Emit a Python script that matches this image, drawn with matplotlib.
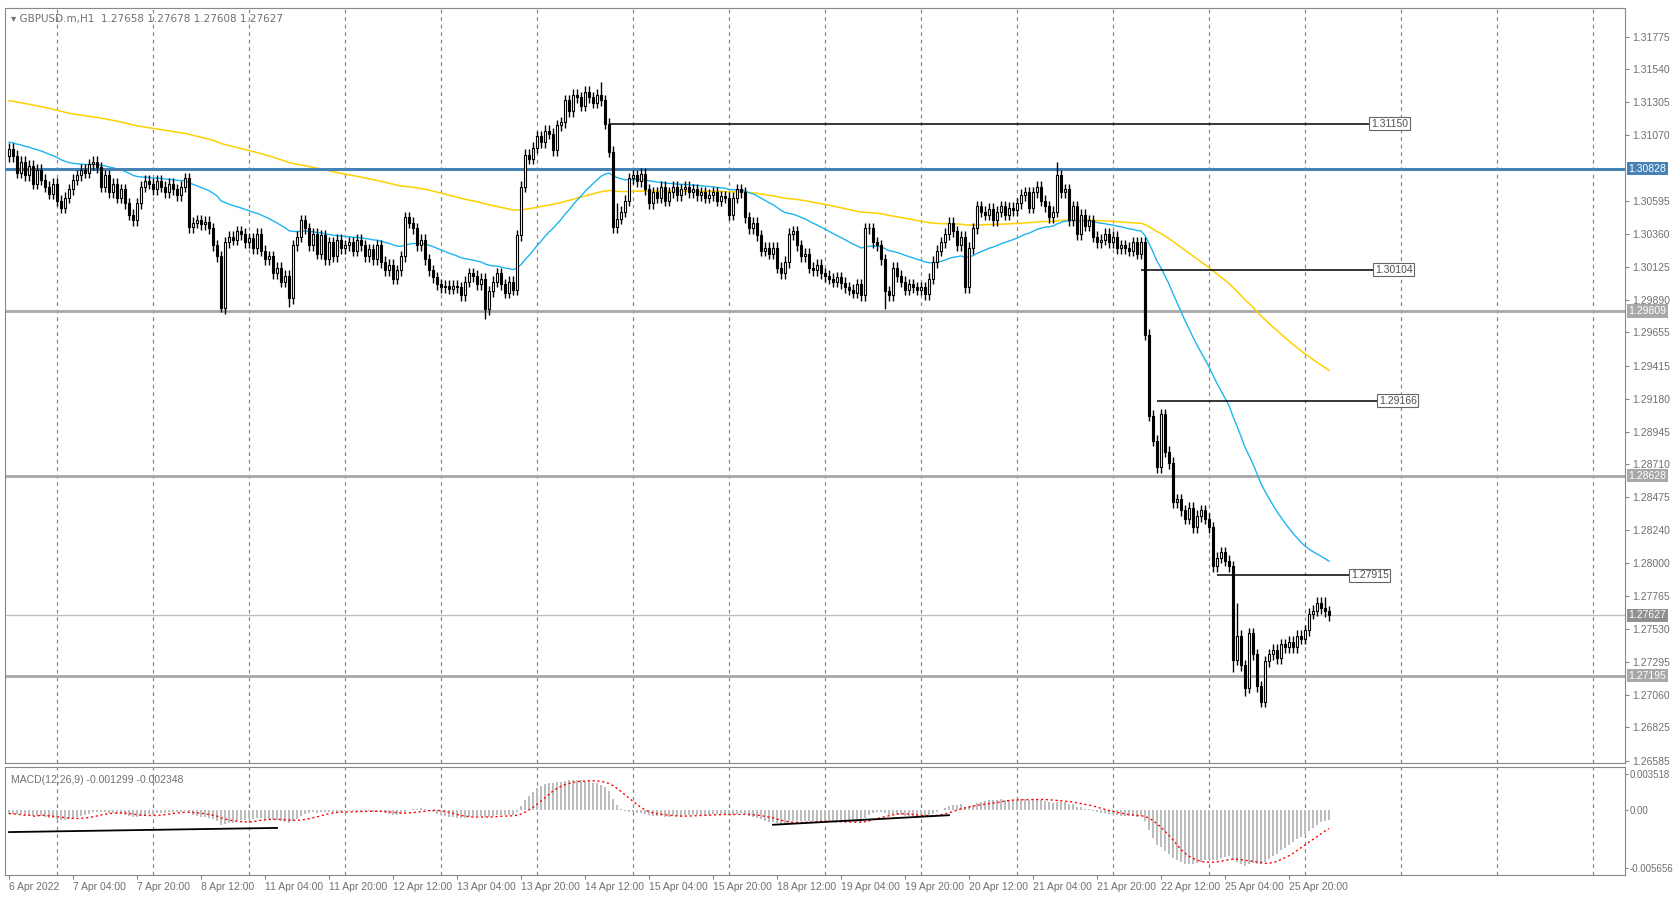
import numpy as np
import matplotlib
matplotlib.use("Agg")
import matplotlib.pyplot as plt
from matplotlib.patches import Rectangle

plt.rcParams['font.family'] = ['Liberation Sans', 'DejaVu Sans']

# hourly closes GBPUSD.m H1, 6 Apr 12:00 .. 26 Apr 07:00
closes = [
    1.3097, 1.3092, 1.3080, 1.3088, 1.3078, 1.3085, 1.3072, 1.3082,
    1.3075, 1.3070, 1.3065, 1.3072, 1.3060,
    1.3055, 1.3062, 1.3068, 1.3075, 1.3078, 1.3082, 1.3080, 1.3086,
    1.3088, 1.3084, 1.3070, 1.3078, 1.3066, 1.3072, 1.3062, 1.3068,
    1.3058, 1.3050, 1.3046, 1.3058,
    1.3070, 1.3074, 1.3072, 1.3068, 1.3074, 1.3070, 1.3066, 1.3072, 1.3068, 1.3064, 1.3070, 1.3076,
    1.3041, 1.3044, 1.3046, 1.3043, 1.3045, 1.3040,
    1.3028, 1.3020, 1.2983,
    1.3030, 1.3034, 1.3032, 1.3038, 1.3036, 1.3030, 1.3033, 1.3026, 1.3036,
    1.3024, 1.3018, 1.3020, 1.3008, 1.3012, 1.3002, 1.3006, 1.2990,
    1.3028, 1.3034, 1.3046, 1.3040, 1.3028, 1.3036, 1.3022, 1.3035, 1.3018, 1.3030, 1.3020, 1.3032, 1.3026, 1.3028,
    1.3030, 1.3024, 1.3032, 1.3028, 1.3020, 1.3025, 1.3018, 1.3028,
    1.3016, 1.3010, 1.3014, 1.3004, 1.3010, 1.3020,
    1.3048,
    1.3044, 1.3040, 1.3028, 1.3032, 1.3018, 1.3010, 1.3005,
    1.3000, 1.2998, 1.2999, 1.2997, 1.2999, 1.2998, 1.2992,
    1.3002, 1.3008, 1.3006, 1.3000, 1.3004, 1.2982,
    1.2995, 1.3002, 1.3008, 1.3000, 1.2994, 1.3002, 1.2996,
    1.3035, 1.3070, 1.3093,
    1.3090, 1.3098, 1.3106, 1.3102, 1.3110, 1.3108, 1.3096, 1.3114, 1.3116,
    1.3132, 1.3124, 1.3136, 1.3134, 1.3128, 1.3138, 1.3134, 1.3130, 1.3136, 1.3132,
    1.3115, 1.3095,
    1.3041,
    1.3047, 1.3052, 1.3060, 1.3076, 1.3078, 1.3074, 1.3079,
    1.3068, 1.3058, 1.3066, 1.3062, 1.3070, 1.3060, 1.3066, 1.3070, 1.3064, 1.3068,
    1.3070, 1.3066, 1.3068, 1.3064, 1.3066, 1.3062, 1.3064, 1.3066, 1.3060, 1.3063, 1.3062, 1.3050,
    1.3062, 1.3068, 1.3066,
    1.3048, 1.3040, 1.3044, 1.3035,
    1.3024, 1.3026, 1.3022, 1.3026,
    1.3012, 1.3008, 1.3016,
    1.3036, 1.3038,
    1.3028, 1.3020, 1.3022, 1.3012, 1.3010, 1.3014, 1.3008,
    1.3006, 1.3004, 1.3002, 1.3005, 1.3001, 1.2998, 1.2996, 1.2994, 1.3000, 1.2992, 1.3040,
    1.3040, 1.3030, 1.3028,
    1.3018, 1.2995, 1.2992, 1.3012, 1.3006,
    1.3002, 1.2996, 1.3000, 1.2998, 1.2996, 1.2998, 1.2993,
    1.3004, 1.3016, 1.3024, 1.3030, 1.3036, 1.3044, 1.3038,
    1.3028, 1.3034, 1.2998,
    1.3026, 1.3040, 1.3056,
    1.3052, 1.3050, 1.3054, 1.3046, 1.3052, 1.3056, 1.3050,
    1.3055, 1.3053, 1.3058, 1.3064, 1.3066, 1.3055, 1.3066, 1.3070, 1.3060, 1.3056, 1.3048, 1.3052, 1.3078, 1.3066, 1.3068,
    1.3046, 1.3056, 1.3036, 1.3050, 1.3042, 1.3046, 1.3034, 1.3030,
    1.3032, 1.3036, 1.3030, 1.3034, 1.3026, 1.3028, 1.3026, 1.3024, 1.3030, 1.3022, 1.3030,
    1.2964,
    1.2906, 1.2888, 1.2869, 1.2907, 1.2880, 1.2872, 1.2844,
    1.2846, 1.2838, 1.2832, 1.2840, 1.2826, 1.2834, 1.2838, 1.2832, 1.2826,
    1.2798,
    1.2804, 1.2808, 1.2802, 1.2798,
    1.2731,
    1.2748, 1.2727, 1.2711, 1.2750, 1.2735, 1.2712, 1.2701, 1.2730,
    1.2735, 1.2738, 1.2732, 1.2742, 1.2740, 1.2744, 1.2740, 1.2748, 1.2746, 1.2752, 1.2764,
    1.2766, 1.2772, 1.2768, 1.27658, 1.27627,
]
first_open = 1.3092
# spikes where the wick goes well past the body
wick_low = {53: 1.2980, 70: 1.2984, 119: 1.2975, 219: 1.2982, 306: 1.2722, 309: 1.2705, 313: 1.2697}
wick_high = {148: 1.3145, 262: 1.3088, 152: 1.3058, 307: 1.2772, 329: 1.2776}

time_labels = ["6 Apr 2022", "7 Apr 04:00", "7 Apr 20:00", "8 Apr 12:00", "11 Apr 04:00",
               "11 Apr 20:00", "12 Apr 12:00", "13 Apr 04:00", "13 Apr 20:00", "14 Apr 12:00",
               "15 Apr 04:00", "15 Apr 20:00", "18 Apr 12:00", "19 Apr 04:00", "19 Apr 20:00",
               "20 Apr 12:00", "21 Apr 04:00", "21 Apr 20:00", "22 Apr 12:00", "25 Apr 04:00",
               "25 Apr 20:00"]
price_ticks = [1.31775, 1.31540, 1.31305, 1.31070, 1.30595, 1.30360, 1.30125, 1.29890,
               1.29655, 1.29415, 1.29180, 1.28945, 1.28710, 1.28475, 1.28240, 1.28000,
               1.27765, 1.27530, 1.27295, 1.27060, 1.26825, 1.26585]
support_levels = [1.29809, 1.28628, 1.27195]
blue_level = 1.30828
last_price = 1.27627
# (start bar, price, end bar) of the short black horizontal lines with price boxes
marked_levels = [(150, 1.31150, 340), (283, 1.30104, 341), (287, 1.29166, 342), (302, 1.27915, 335)]
macd_trend1 = ([0, 67], [-0.00216, -0.00175])
macd_trend2 = ([191, 235], [-0.00144, -0.00050])

closes = np.array(closes)
n = len(closes)
x = np.arange(n)
opens = np.concatenate([[first_open], closes[:-1]])
highs = np.maximum(opens, closes) + 0.0004
lows = np.minimum(opens, closes) - 0.0004
for k, v in wick_low.items():
    lows[k] = v
for k, v in wick_high.items():
    highs[k] = v


def ema(values, period, seed):
    out = np.empty(len(values))
    a = 2.0 / (period + 1)
    prev = seed
    for i, v in enumerate(values):
        prev = prev + a * (v - prev)
        out[i] = prev
    return out


ma_fast = ema(closes, 45, 1.3102)
ma_slow = ema(closes, 180, 1.3132)

macd = ema(closes, 12, 1.3094) - ema(closes, 26, 1.3098)
signal = np.convolve(macd, np.ones(9) / 9, mode="full")[:n]
signal[:8] = macd[:8]

W, H = 1673, 897
fs = 7.5
fig = plt.figure(figsize=(W / 100, H / 100), dpi=100)
fig.patch.set_facecolor("white")
ax = fig.add_axes([5 / W, 1 - 763 / H, 1620 / W, 755 / H])
axm = fig.add_axes([5 / W, 1 - 875 / H, 1620 / W, 108 / H])

xmin, xmax = -1, 404
grid_x = np.arange(12, xmax, 24)
gc = "#888888"
for a in (ax, axm):
    a.set_xlim(xmin, xmax)
    for g in grid_x:
        a.axvline(g, color=gc, lw=0.9, ls=(0, (3, 3)), zorder=0)
    for s in a.spines.values():
        s.set_color("#888888")
    a.yaxis.tick_right()
    a.tick_params(axis="y", colors="#888888", labelsize=fs, length=3, pad=2, labelcolor="#707070")
axm.tick_params(axis="y", labelsize=7, length=2, pad=1)

# moving averages
ax.plot(x, ma_slow, color="#FFD000", lw=1.1, zorder=2)
ax.plot(x, ma_fast, color="#1EB4F0", lw=1.0, zorder=2)

# levels
ax.axhline(blue_level, color="#4682B4", lw=2.2, zorder=3)
for lv in support_levels:
    ax.axhline(lv, color="#A8A8A8", lw=2.0, zorder=1)
ax.axhline(last_price, color="#C0C0C0", lw=1.0, zorder=1)

# candles
bw = 0.6
for i in x:
    o, c = opens[i], closes[i]
    ax.vlines(i, lows[i], highs[i], color="black", lw=1.0, zorder=4)
    bull = c >= o
    ax.add_patch(Rectangle((i - bw / 2, min(o, c)), bw, max(abs(c - o), 0.00005),
                           facecolor="white" if bull else "black", edgecolor="black",
                           lw=0.8, zorder=5))

for start, lv, end in marked_levels:
    ax.hlines(lv, start, end, color="black", lw=1.1, zorder=3)
    ax.text(end + 0.5, lv, "%.5f" % lv, fontsize=fs, color="#505050", va="center", ha="left",
            bbox=dict(boxstyle="square,pad=0.15", fc="white", ec="#666666", lw=0.8), zorder=6)

ax.set_ylim(1.26570, 1.31980)
ax.set_yticks(price_ticks)
ax.set_yticklabels(["%.5f" % t for t in price_ticks])
ax.set_xticks([])
for lv, col in [(blue_level, "#4682B4"), (support_levels[0], "#A8A8A8"), (support_levels[1], "#A8A8A8"),
                (support_levels[2], "#A8A8A8"), (last_price, "#909090")]:
    ax.text(1.002, lv, "%.5f" % lv, transform=ax.get_yaxis_transform(), fontsize=fs,
            color="white", va="center", ha="left",
            bbox=dict(boxstyle="square,pad=0.15", fc=col, ec="none"), zorder=7)

ax.text(0.004, 0.992, "\u25be GBPUSD.m,H1  1.27658 1.27678 1.27608 1.27627", transform=ax.transAxes,
        fontsize=fs, color="#707070", va="top", ha="left", family=['DejaVu Sans'])

# MACD panel
axm.bar(x, macd, width=0.6, color="#BDBDBD", zorder=2)
axm.plot(x, signal, color="red", lw=1.0, ls=(0, (1.5, 2)), zorder=3)
axm.plot(*macd_trend1, color="black", lw=1.3, zorder=4)
axm.plot(*macd_trend2, color="black", lw=1.3, zorder=4)
axm.set_ylim(-0.00638, 0.00424)
axm.set_yticks([0.003518, 0.0, -0.005656])
axm.set_yticklabels(["0.003518", "0.00", "-0.005656"])
axm.text(0.004, 0.93, "MACD(12,26,9) -0.001299 -0.002348", transform=axm.transAxes,
         fontsize=fs, color="#707070", va="top", ha="left")
tick_pos = np.arange(0, 16 * len(time_labels), 16)
axm.set_xticks(tick_pos)
axm.set_xticklabels(time_labels, ha="left")
axm.tick_params(axis="x", labelsize=fs, labelcolor="#707070", colors="#888888", length=3, pad=2)

fig.savefig("out.png", dpi=100, facecolor="white")
